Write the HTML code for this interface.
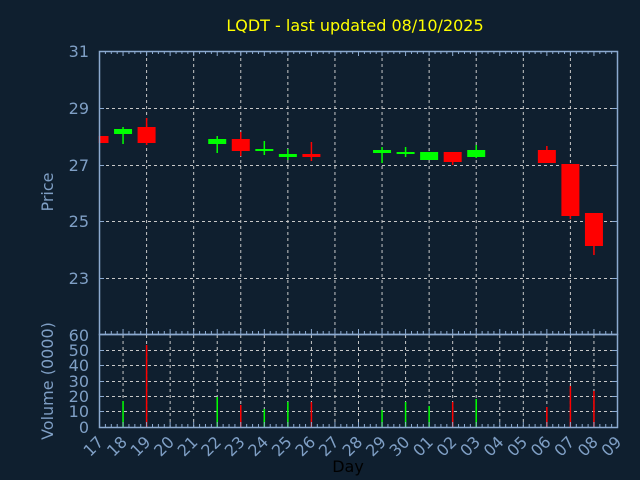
<!DOCTYPE html>
<html><head><meta charset="utf-8"><style>
html,body{margin:0;padding:0;background:#0f1f2f;}
svg{display:block;font-family:"DejaVu Sans","Liberation Sans",sans-serif;}
</style></head><body>
<svg id="s" width="640" height="480" viewBox="0 0 640 480" xmlns="http://www.w3.org/2000/svg">
<rect width="640" height="480" fill="#0f1f2f"/>
<g id="grid" stroke="#c8c8c8" stroke-width="1" stroke-dasharray="3,3"></g>
<g id="c"></g>
<g stroke="#8caad0" stroke-width="1.5" fill="none">
<rect x="99.5" y="51.5" width="518" height="283"/>
<rect x="99.5" y="334.5" width="518" height="93"/>
</g>
<g id="ticks" stroke="#8caad0" stroke-width="1"></g>
<text x="355" y="31" fill="#ffff00" font-size="16" text-anchor="middle">LQDT - last updated 08/10/2025</text>
<g fill="#7f9fc5" font-size="16" text-anchor="end">
<text x="89" y="57">31</text><text x="89" y="114">29</text><text x="89" y="171">27</text>
<text x="89" y="227">25</text><text x="89" y="284">23</text>
<text x="89" y="341">60</text><text x="89" y="356">50</text><text x="89" y="371">40</text>
<text x="89" y="387">30</text><text x="89" y="402">20</text><text x="89" y="417">10</text><text x="89" y="433">0</text>
</g>
<text transform="translate(53,192) rotate(-90)" fill="#7f9fc5" font-size="16" text-anchor="middle">Price</text>
<text transform="translate(53,381) rotate(-90)" fill="#7f9fc5" font-size="16" text-anchor="middle">Volume (0000)</text>
<text x="348" y="472" fill="#000000" font-size="16" text-anchor="middle">Day</text>
<g id="lbl" fill="#7f9fc5" font-size="16"></g>
</svg>
<script>
var NS="http://www.w3.org/2000/svg";
function el(p,t,a,txt){var e=document.createElementNS(NS,t);for(var k in a)e.setAttribute(k,a[k]);if(txt)e.textContent=txt;document.getElementById(p).appendChild(e);}
var X=function(i){return 99.5+i*23.545;};
[108,165,221,278].forEach(function(y){el("grid","line",{x1:100,x2:617,y1:y+.5,y2:y+.5});});
for(var i=2;i<22;i+=2)el("grid","line",{x1:X(i),x2:X(i),y1:52,y2:334});
[350,365,381,396,411].forEach(function(y){el("grid","line",{x1:100,x2:617,y1:y+.5,y2:y+.5});});
for(var i=1;i<22;i++)el("grid","line",{x1:X(i),x2:X(i),y1:335,y2:427});
for(var i=0;i<=22;i++){for(var j=0;j<4;j++){var x=X(i)+j*5.9;if(x>617)break;var h=j?3:5;
el("ticks","line",{x1:x,x2:x,y1:51,y2:51+h});el("ticks","line",{x1:x,x2:x,y1:334,y2:334-h});el("ticks","line",{x1:x,x2:x,y1:427,y2:427-h});}}
[108,165,221,278,350,365,381,396,411].forEach(function(y){el("ticks","line",{x1:99,x2:104,y1:y+.5,y2:y+.5});el("ticks","line",{x1:612,x2:617,y1:y+.5,y2:y+.5});});
var G="#00ff00",R="#ff0000";
var d=[[0,R,136,143,136,143,null],[1,G,129,134,127,144,401],[2,R,127,143,118,145,345],
[5,G,139,144,136,153,397],[6,R,139,151,132,156,405],[7,G,149,151,141,155,409],[8,G,154,157,149,160,402],
[9,R,154,157,142,161,402],[12,G,150,153,147,163,410],[13,G,152,153,147,157,402],[14,G,152,160,152,160,406],
[15,R,152,162,152,165,402],[16,G,150,157,145,158,399],[19,R,150,163,146,163,407],[20,R,164,216,164,219,386],[21,R,213,246,213,255,391]];
d.forEach(function(c){var x=X(c[0]);
el("c","line",{x1:x,x2:x,y1:c[4],y2:c[5],stroke:c[1],"stroke-width":1.5});
var x0=Math.max(100,x-9);el("c","rect",{x:x0,y:c[2],width:x+9-x0,height:Math.max(2,c[3]-c[2]),fill:c[1]});
if(c[6])el("c","line",{x1:x,x2:x,y1:c[6],y2:427,stroke:c[1],"stroke-width":1.5});});
var L=["17","18","19","20","21","22","23","24","25","26","27","28","29","30","01","02","03","04","05","06","07","08","09"];
L.forEach(function(t,i){var x=X(i)+5,y=443;el("lbl","text",{x:x,y:y,"text-anchor":"end",transform:"rotate(-45 "+x+" "+y+")"},t);});
</script>
</body></html>
